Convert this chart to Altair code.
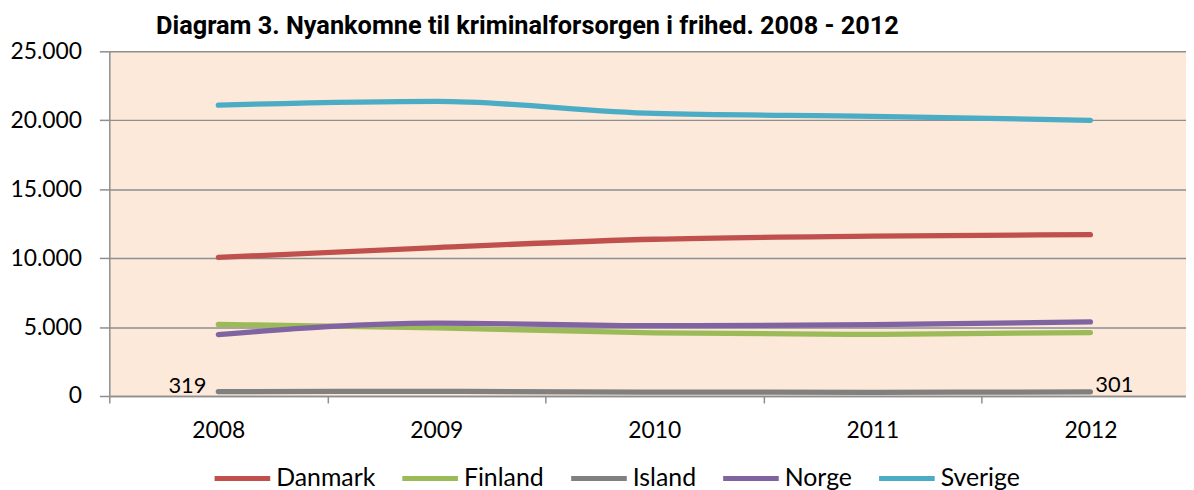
import altair as alt
import pandas as pd

years = [2008, 2009, 2010, 2011, 2012]
countries = ["Danmark", "Finland", "Island", "Norge", "Sverige"]
danmark = [10050, 10770, 11370, 11590, 11700]
finland = [5190, 4950, 4580, 4470, 4600]
island = [319, 335, 285, 270, 301]
norge = [4450, 5290, 5100, 5170, 5370]
sverige = [21100, 21370, 20500, 20290, 20000]
colors = ["#C0504D", "#9BBB59", "#808080", "#8064A2", "#4BACC6"]
y_ticks = [0, 5000, 10000, 15000, 20000, 25000]

series = [danmark, finland, island, norge, sverige]
rows = []
for c, vals in zip(countries, series):
    for yr, v in zip(years, vals):
        rows.append({"year": yr, "country": c, "value": v})
df = pd.DataFrame(rows)

FONT = "Lato"
FS = 23
W, H = 1084, 347
band = 219.5
x_domain = [years[0] - 0.5, years[0] - 0.5 + W / band]
separators = [yr - 0.5 for yr in years]

x_scale = alt.Scale(domain=x_domain, nice=False, zero=False)
y_scale = alt.Scale(domain=[0, 25000], nice=False)

# wide, flat legend symbol: unit path scaled by sqrt(size)/2
SYM_R = 11.2
legend_symbol = "M-2.5,0H2.5"

lines = alt.Chart(df).mark_line(strokeWidth=5.3, strokeCap="round", interpolate="monotone").encode(
    x=alt.X("year:Q", scale=x_scale,
            axis=alt.Axis(values=years, ticks=False, grid=False, format="d", labelFontSize=FS,
                          labelFont=FONT, labelColor="#000", labelPadding=24, domain=True,
                          domainColor="#8E8E8E", domainWidth=1.5, title=None, orient="bottom",
                          labelFlush=False)),
    y=alt.Y("value:Q", scale=y_scale,
            axis=alt.Axis(values=y_ticks, title=None, grid=True, gridColor="#8E8E8E", gridWidth=1.5,
                          tickSize=10, tickColor="#8E8E8E", tickWidth=1.5, domainColor="#8E8E8E",
                          domainWidth=1.5, labelFontSize=FS, labelFont=FONT, labelColor="#000",
                          labelPadding=18,
                          labelExpr="replace(format(datum.value, ','), ',', '.')")),
    color=alt.Color("country:N", scale=alt.Scale(domain=countries, range=colors),
                    legend=alt.Legend(title=None, orient="none", direction="horizontal",
                                      legendX=120, legendY=416, symbolType=legend_symbol,
                                      symbolSize=(2 * SYM_R) ** 2, symbolStrokeWidth=5,
                                      labelFontSize=25, labelFont=FONT, labelColor="#000",
                                      labelOffset=20, columnPadding=17, padding=0)),
    order=alt.Order("year:Q"),
)

isl = df[df["country"] == "Island"]
first = isl[isl["year"] == years[0]]
last = isl[isl["year"] == years[-1]]

lab_first = alt.Chart(first).mark_text(align="right", baseline="alphabetic", dx=-12, dy=1,
                                       fontSize=22, font=FONT, color="#000").encode(
    x=alt.X("year:Q", scale=x_scale,
            axis=alt.Axis(values=separators, labels=False, ticks=True, tickSize=7,
                          tickColor="#8E8E8E", tickWidth=1.5, domain=False, grid=False,
                          title=None, orient="bottom")),
    y=alt.Y("value:Q", scale=y_scale),
    text=alt.Text("value:Q", format="d"),
)
lab_last = alt.Chart(last).mark_text(align="left", baseline="alphabetic", dx=5, dy=0,
                                     fontSize=22, font=FONT, color="#000").encode(
    x=alt.X("year:Q", scale=x_scale, axis=None),
    y=alt.Y("value:Q", scale=y_scale),
    text=alt.Text("value:Q", format="d"),
)

chart = alt.layer(lines, lab_first, lab_last).resolve_axis(x="independent").properties(
    width=W, height=H,
    background="white",
    autosize=alt.AutoSizeParams(type="none"),
    padding={"left": 102, "top": 42, "right": 0, "bottom": 93},
    title=alt.TitleParams("Diagram 3. Nyankomne til kriminalforsorgen i frihed. 2008 - 2012",
                          anchor="start", frame="group", dx=47, fontSize=25.5, fontWeight="bold",
                          font="Roboto", color="#000", offset=1),
).configure_view(fill="#FDE9D9", stroke=None)

chart.save("out.html", embed_options={"renderer": "svg", "actions": False})
